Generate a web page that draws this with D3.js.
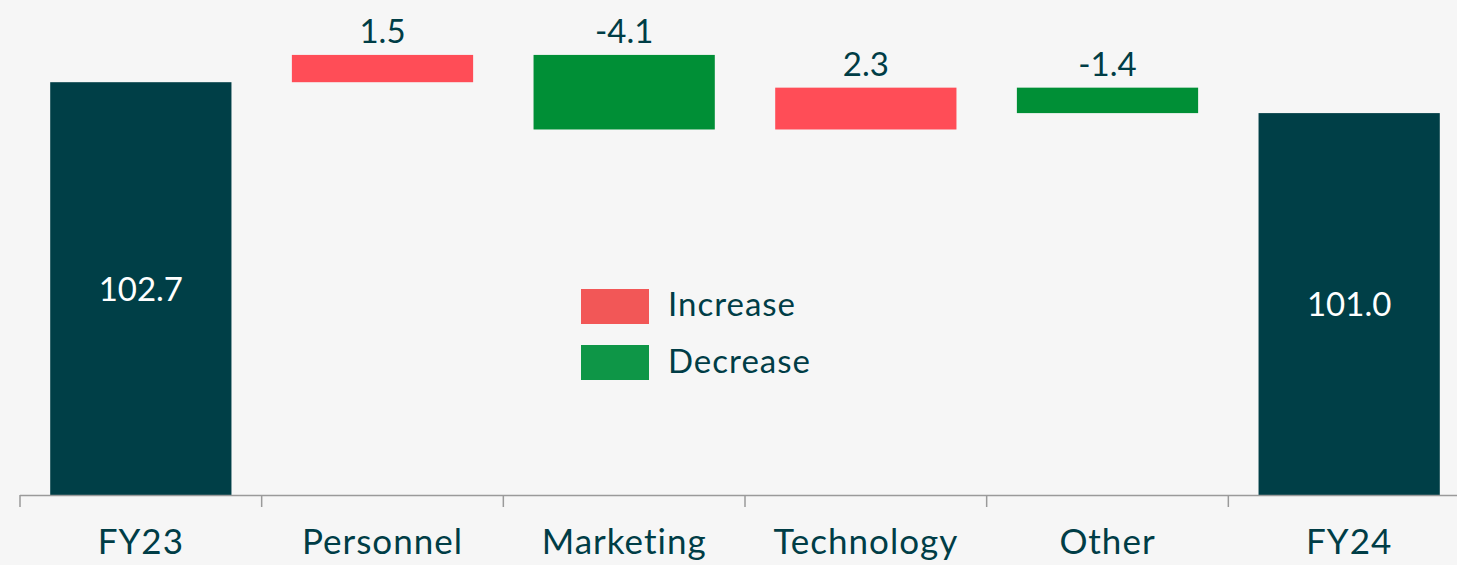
<!DOCTYPE html>
<html>
<head>
<meta charset="utf-8">
<script src="https://cdn.jsdelivr.net/npm/d3@7"></script>
<style>
html,body{margin:0;padding:0;background:#f6f6f6;}
svg{display:block;}
text{font-family:Lato,"Open Sans",sans-serif;}
</style>
</head>
<body>
<svg id="chart" width="1457" height="565"></svg>
<script>
const categories = ["FY23","Personnel","Marketing","Technology","Other","FY24"];
const values = [102.7, 1.5, -4.1, 2.3, -1.4, 101.0];
const kinds = ["total","delta","delta","delta","delta","total"];
const legendLabels = ["Increase","Decrease"];

const W = 1457, H = 565;
const svg = d3.select("#chart");
const textColor = "#003d46";
const colors = {total:"#003f47", inc:"#ff4d57", dec:"#008f36"};
const legendColors = ["#f25757","#0e9647"];

// compute waterfall segments
let running = 0;
const segs = categories.map((c,i)=>{
  const v = values[i];
  if (kinds[i]==="total"){ running = v; return {c, v, y0: 80, y1: v, kind:"total"}; }
  const start = running; running = +(running + v).toFixed(4);
  return {c, v, y0: Math.min(start, running), y1: Math.max(start, running), kind: v>=0?"inc":"dec"};
});

const x = d3.scaleBand().domain(categories).range([20, 1470]).paddingInner(0.25).paddingOuter(0.125);
const y = d3.scaleLinear().domain([80, 107]).range([495, 4]);

svg.selectAll("rect.bar").data(segs).enter().append("rect")
  .attr("class","bar")
  .attr("x", d=>x(d.c))
  .attr("width", x.bandwidth())
  .attr("y", d=>y(d.y1))
  .attr("height", d=>y(d.y0)-y(d.y1))
  .attr("fill", d=>colors[d.kind]);

// labels
svg.selectAll("text.val").data(segs).enter().append("text")
  .attr("class","val")
  .attr("x", d=>x(d.c)+x.bandwidth()/2)
  .attr("y", d=> d.kind==="total" ? (y(d.y0)+y(d.y1))/2 + 12 : y(d.y1) - 12)
  .attr("text-anchor","middle")
  .attr("font-size", 33)
  .attr("fill", d=> d.kind==="total" ? "#ffffff" : textColor)
  .text(d=> d3.format(".1f")(d.v).replace("−","-"));

// axis
const axisG = svg.append("g");
axisG.append("line").attr("x1",20).attr("x2",1470).attr("y1",495.5).attr("y2",495.5)
  .attr("stroke","#9a9a9a").attr("stroke-width",1.5);
const step = x.step();
const tickPos = d3.range(categories.length).map(i=> x.range()[0] + i*step);
axisG.selectAll("line.tick").data(tickPos).enter().append("line")
  .attr("x1",d=>d).attr("x2",d=>d).attr("y1",495).attr("y2",507)
  .attr("stroke","#9a9a9a").attr("stroke-width",1.5);
axisG.selectAll("text.cat").data(categories).enter().append("text")
  .attr("x", d=>x(d)+x.bandwidth()/2)
  .attr("y", 554)
  .attr("text-anchor","middle")
  .attr("font-size", 35)
  .attr("letter-spacing", 1)
  .attr("fill", textColor)
  .text(d=>d);

// legend
const lg = svg.append("g");
legendLabels.forEach((l,i)=>{
  lg.append("rect").attr("x",581).attr("y",289+i*56).attr("width",68).attr("height",35).attr("fill",legendColors[i]);
  lg.append("text").attr("x",668).attr("y",316+i*57).attr("font-size",33).attr("letter-spacing",1).attr("fill",textColor).text(l);
});
</script>
</body>
</html>
